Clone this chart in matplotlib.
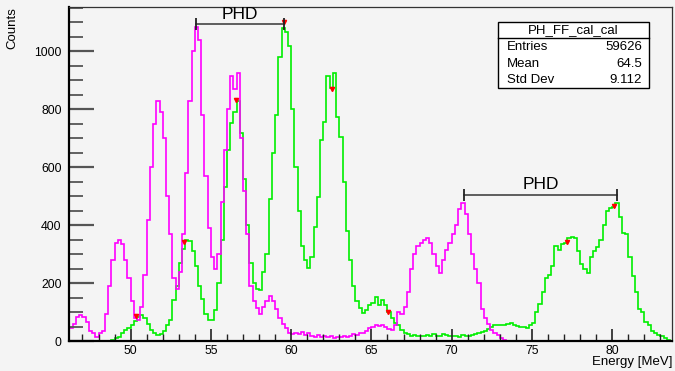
import numpy as np
import matplotlib
matplotlib.use("Agg")
import matplotlib.pyplot as plt
from matplotlib.patches import Rectangle

plt.rcParams['font.family'] = ['Liberation Sans', 'DejaVu Sans']

# histogram binning (MeV)
bin_start = 46.0
bin_width = 0.2

# magenta histogram, 0.2 MeV bins from 46.0
counts_mag = [
    45, 45, 60, 85, 90,
    85, 65, 35, 28, 16,
    30, 35, 95, 190, 280,
    340, 350, 335, 280, 220,
    140, 80, 75, 120, 230,
    420, 600, 750, 830, 790,
    700, 500, 370, 220, 180,
    240, 370, 580, 830, 1000,
    1085, 1040, 780, 570, 390,
    290, 250, 300, 480, 660,
    800, 915, 870, 925, 700,
    520, 370, 190, 140, 115,
    95, 120, 140, 155, 140,
    110, 80, 60, 45, 30,
    25, 28, 25, 32, 22,
    28, 20, 15, 22, 14,
    18, 15, 20, 12, 15,
    14, 18, 16, 20, 25,
    22, 28, 30, 35, 45,
    50, 55, 52, 58, 50,
    42, 40, 55, 100, 95,
    120, 170, 250, 300, 330,
    340, 350, 358, 340, 300,
    260, 235, 280, 315, 340,
    370, 400, 455, 478, 440,
    370, 300, 250, 200, 110,
    80, 60, 40, 30, 22,
    10, 4, 0, 0, 0,
    0, 0, 0, 0, 0,
    0, 0, 0, 0, 0,
]

# green histogram, 0.2 MeV bins from 46.0
counts_grn = [
    0, 0, 0, 0, 0,
    0, 0, 0, 0, 0,
    0, 0, 0, 2, 5,
    10, 15, 30, 40, 45,
    56, 70, 85, 91, 80,
    60, 40, 30, 22, 25,
    35, 56, 74, 143, 190,
    270, 320, 350, 345, 310,
    260, 190, 145, 95, 74,
    74, 108, 200, 350, 533,
    660, 752, 790, 830, 720,
    560, 400, 270, 200, 180,
    177, 240, 300, 490, 650,
    780, 980, 1080, 1068, 1017,
    800, 600, 450, 330, 280,
    252, 292, 396, 499, 695,
    755, 915, 875, 925, 775,
    706, 550, 380, 280, 190,
    140, 115, 97, 108, 125,
    131, 154, 125, 143, 125,
    102, 80, 62, 56, 39,
    28, 25, 20, 22, 18,
    20, 18, 22, 20, 25,
    20, 18, 25, 22, 20,
    18, 20, 16, 22, 18,
    20, 22, 25, 28, 33,
    35, 42, 48, 55, 56,
    58, 56, 60, 62, 55,
    52, 50, 48, 45, 55,
    62, 100, 130, 170, 220,
    230, 260, 330, 315, 335,
    340, 355, 360, 355, 310,
    265, 250, 235, 290, 310,
    325, 350, 400, 450, 460,
    465, 478, 430, 375, 370,
    290, 225, 170, 110, 100,
    65, 55, 35, 30, 22,
    20, 12, 5, 0,
]

# peak-finder markers
peak_x = [50.35, 53.33, 56.55, 59.55, 62.52, 66.01, 77.18, 80.14]
peak_y = [87, 342, 831, 1100, 871, 102, 344, 468]

# PHD brackets: (x_left, x_right, y)
phd1 = (54.1, 59.55, 1095)
phd2 = (70.75, 80.3, 505)

stats_title = "PH_FF_cal_cal"
stats_names = ["Entries", "Mean", "Std Dev"]
stats_vals = ["59626", "64.5", "9.112"]

bg = '#f4f4f4'
fig = plt.figure(figsize=(6.75, 3.71), dpi=100, facecolor=bg)
ax = fig.add_axes([0.1015, 0.080, 0.894, 0.901], facecolor=bg)

edges_mag = bin_start + bin_width * np.arange(len(counts_mag) + 1)
edges_grn = bin_start + bin_width * np.arange(len(counts_grn) + 1)
ax.stairs(counts_grn, edges_grn, color='#00ee00', lw=1.2)
ax.stairs(counts_mag, edges_mag, color='#ff00ff', lw=1.2)
ax.plot(peak_x, peak_y, 'v', color='red', ms=3, ls='none')

ax.set_xlim(46.13, 83.72)
ax.set_ylim(0, 1153)

# PHD brackets
for (xa, xb, yy), ty in [(phd1, 1128), (phd2, 540)]:
    ax.plot([xa, xb], [yy, yy], color='#444444', lw=1.2)
    ax.plot([xa, xb], [yy, yy], '|', color='#222222', ms=8, mew=1.3)
    ax.text((xa + xb) / 2, ty, "PHD", ha='center', va='center', fontsize=12.5)

# axes styling, ROOT-like
for s in ['top', 'right']:
    ax.spines[s].set_linewidth(0.9)
    ax.spines[s].set_color('#333333')
for s in ['left', 'bottom']:
    ax.spines[s].set_linewidth(1.6)
    ax.spines[s].set_color('black')

ax.set_xticks([50, 55, 60, 65, 70, 75, 80])
ax.set_xticks(np.arange(47, 84, 1), minor=True)
ax.set_yticks([0, 200, 400, 600, 800, 1000])
ax.set_yticks(np.arange(0, 1151, 50), minor=True)
ax.tick_params(axis='x', which='major', direction='in', length=9, width=1.2,
               color='#222222', labelsize=8.8, pad=3)
ax.tick_params(axis='x', which='minor', direction='in', length=5, width=1.0,
               color='#222222')
ax.tick_params(axis='y', which='major', direction='in', length=18, width=1.6,
               color='#555555', labelsize=8.8, pad=5)
ax.tick_params(axis='y', which='minor', direction='in', length=10, width=1.3,
               color='#555555')

fig.text(0.0185, 0.982, "Counts", rotation=90, ha='center', va='top', fontsize=9.5)
fig.text(0.9956, 0.024, "Energy [MeV]", ha='right', va='center', fontsize=9.5)

# statistics box
bx0, bx1, by0, by1, bsep = 0.712, 0.962, 0.757, 0.956, 0.906
ax.add_patch(Rectangle((bx0, by0), bx1 - bx0, by1 - by0, transform=ax.transAxes,
                       facecolor='white', edgecolor='black', lw=1.0, zorder=5))
ax.plot([bx0, bx1], [bsep, bsep], transform=ax.transAxes, color='black', lw=1.0, zorder=6)
ax.text((bx0 + bx1) / 2, 0.931, stats_title, transform=ax.transAxes,
        ha='center', va='center', fontsize=9.5, zorder=7)
for i, (n, v) in enumerate(zip(stats_names, stats_vals)):
    yy = 0.880 - i * 0.049
    ax.text(0.726, yy, n, transform=ax.transAxes, ha='left', va='center', fontsize=9.5, zorder=7)
    ax.text(0.950, yy, v, transform=ax.transAxes, ha='right', va='center', fontsize=9.5, zorder=7)

fig.savefig("out.png", dpi=100, facecolor=bg)
